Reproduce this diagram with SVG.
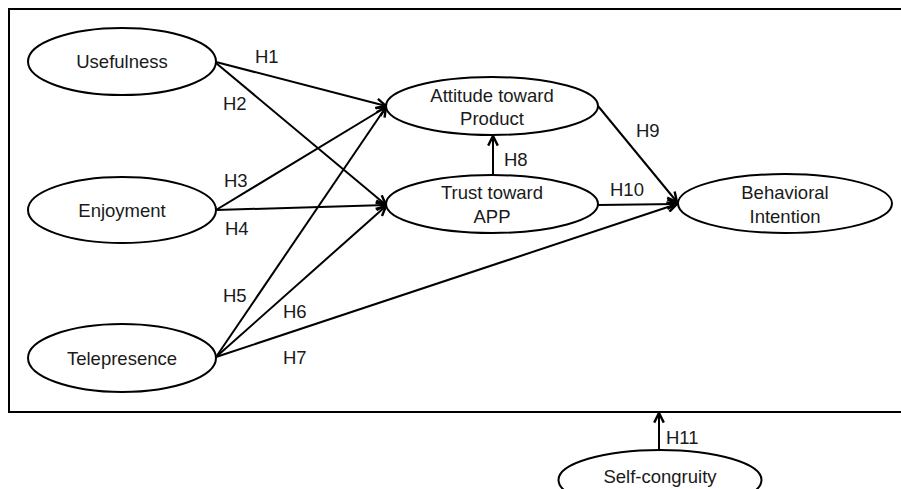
<svg xmlns="http://www.w3.org/2000/svg" width="901" height="489" viewBox="0 0 901 489">
<defs>
<style>
.n{fill:#fff;stroke:#000;stroke-width:2}
.t{font-family:"Liberation Sans",Arial,sans-serif;font-size:18.5px;fill:#1a1a1a;text-anchor:middle}
.l{font-family:"Liberation Sans",Arial,sans-serif;font-size:18.5px;fill:#1a1a1a}
.c{stroke:#000;stroke-width:2;fill:none;marker-end:url(#a)}
</style>
<marker id="a" viewBox="0 0 10 10" refX="9" refY="5" markerWidth="6" markerHeight="6" orient="auto" markerUnits="strokeWidth">
<path d="M1,1 L9,5 L1,9" fill="none" stroke="#000" stroke-width="2"/>
</marker>
</defs>
<rect width="901" height="489" fill="#fff"/>
<rect id="frame" x="9" y="9" width="900" height="403" fill="none" stroke="#000" stroke-width="2"/>
<g id="connectors">
<line class="c" x1="216" y1="62" x2="386" y2="106"/>
<line class="c" x1="216" y1="63" x2="386" y2="205"/>
<line class="c" x1="216" y1="210" x2="386" y2="107"/>
<line class="c" x1="216" y1="210" x2="386" y2="205"/>
<line class="c" x1="216" y1="357" x2="386" y2="107"/>
<line class="c" x1="216" y1="357" x2="386" y2="206"/>
<line class="c" x1="216" y1="357" x2="677" y2="204"/>
<line class="c" x1="493" y1="175" x2="493" y2="136"/>
<line class="c" x1="598" y1="106" x2="677" y2="202"/>
<line class="c" x1="598" y1="205" x2="677" y2="204"/>
<line class="c" x1="659" y1="450" x2="659" y2="413"/>
<text class="l" x="255" y="63">H1</text>
<text class="l" x="223" y="110">H2</text>
<text class="l" x="224" y="187">H3</text>
<text class="l" x="225" y="235">H4</text>
<text class="l" x="223" y="302">H5</text>
<text class="l" x="283" y="318">H6</text>
<text class="l" x="283" y="364">H7</text>
<text class="l" x="504" y="166">H8</text>
<text class="l" x="636" y="137">H9</text>
<text class="l" x="610" y="196">H10</text>
<text class="l" x="666" y="444">H11</text>
</g>
<g id="usefulness"><ellipse class="n" cx="122" cy="61.5" rx="94" ry="33.5"/><text class="t" x="122" y="68">Usefulness</text></g>
<g id="enjoyment"><ellipse class="n" cx="122" cy="210" rx="94" ry="33"/><text class="t" x="122" y="217">Enjoyment</text></g>
<g id="telepresence"><ellipse class="n" cx="122" cy="358" rx="94" ry="34"/><text class="t" x="122" y="365">Telepresence</text></g>
<g id="attitude"><ellipse class="n" cx="492" cy="106" rx="106" ry="29"/><text class="t" x="492" y="102">Attitude toward</text><text class="t" x="492" y="125">Product</text></g>
<g id="trust"><ellipse class="n" cx="492" cy="204" rx="106" ry="29"/><text class="t" x="492" y="199">Trust toward</text><text class="t" x="492" y="223">APP</text></g>
<g id="behavioral"><ellipse class="n" cx="785" cy="203.5" rx="107" ry="29.5"/><text class="t" x="785" y="199">Behavioral</text><text class="t" x="785" y="223">Intention</text></g>
<g id="selfcongruity"><ellipse class="n" cx="660" cy="480" rx="101.5" ry="30"/><text class="t" x="660" y="483">Self-congruity</text></g>
</svg>
